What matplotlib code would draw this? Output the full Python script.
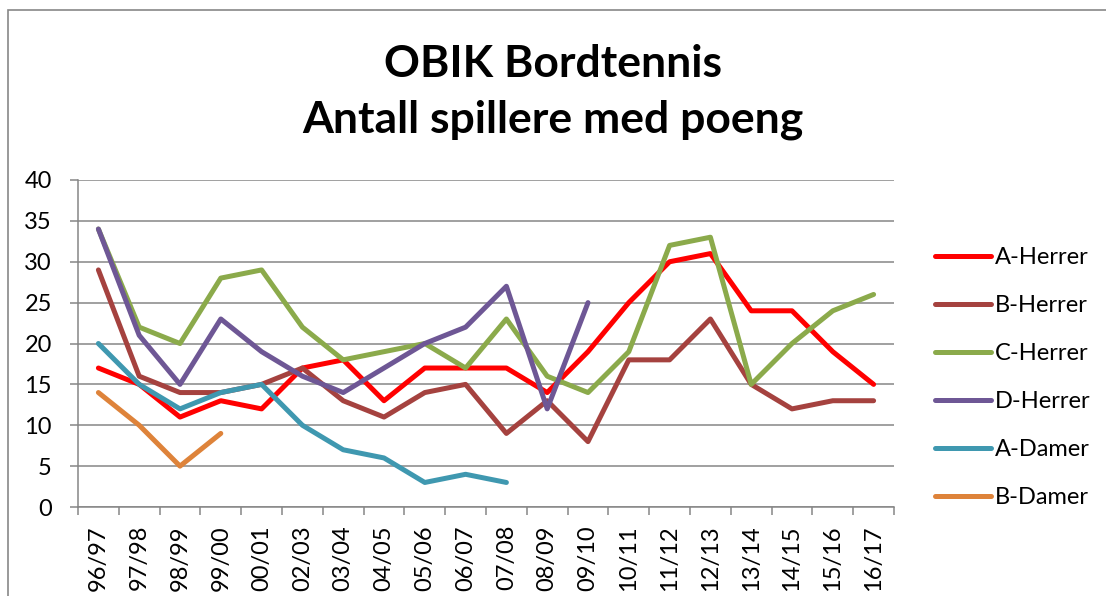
import matplotlib
matplotlib.use("Agg")
import matplotlib.pyplot as plt
from matplotlib.patches import Rectangle
import numpy as np

plt.rcParams['font.family'] = ['Lato', 'DejaVu Sans']

seasons = ["96/97", "97/98", "98/99", "99/00", "00/01", "02/03", "03/04", "04/05",
           "05/06", "06/07", "07/08", "08/09", "09/10", "10/11", "11/12", "12/13",
           "13/14", "14/15", "15/16", "16/17"]

a_herrer = [17, 15, 11, 13, 12, 17, 18, 13, 17, 17, 17, 14, 19, 25, 30, 31, 24, 24, 19, 15]
b_herrer = [29, 16, 14, 14, 15, 17, 13, 11, 14, 15, 9, 13, 8, 18, 18, 23, 15, 12, 13, 13]
c_herrer = [34, 22, 20, 28, 29, 22, 18, 19, 20, 17, 23, 16, 14, 19, 32, 33, 15, 20, 24, 26]
d_herrer = [34, 21, 15, 23, 19, 16, 14, 17, 20, 22, 27, 12, 25]
a_damer = [20, 15, 12, 14, 15, 10, 7, 6, 3, 4, 3]
b_damer = [14, 10, 5, 9]

series_names = ["A-Herrer", "B-Herrer", "C-Herrer", "D-Herrer", "A-Damer", "B-Damer"]
series_values = [a_herrer, b_herrer, c_herrer, d_herrer, a_damer, b_damer]
colors = ["#FF0000", "#A5423F", "#8BAA4B", "#6E5795", "#3F98B0", "#DE833A"]

W, H = 1106, 596
fig = plt.figure(figsize=(W / 100, H / 100), dpi=100)
fig.patch.set_facecolor("white")

# outer chart border (partially visible)
fig.patches.append(Rectangle((8 / W, -0.2), 1.5, 1 - 10 / H + 0.2,
                             transform=fig.transFigure, fill=False,
                             edgecolor="#878787", linewidth=1.2))

left, right, top, bottom = 78, 894, 180, 507
ax = fig.add_axes([left / W, 1 - bottom / H, (right - left) / W, (bottom - top) / H])

x_all = np.arange(len(seasons))
for name, vals, col in zip(series_names, series_values, colors):
    ax.plot(x_all[:len(vals)], vals, color=col, linewidth=3.6, label=name,
            solid_capstyle="round", solid_joinstyle="round")

ax.set_xlim(-0.5, len(seasons) - 0.5)
ax.set_ylim(0, 40)
ax.set_yticks(np.arange(0, 41, 5))
ax.set_xticks(x_all)
ax.set_xticklabels(seasons, rotation=90, fontsize=17, va="top", ha="center")
ax.set_xticks(np.arange(-0.5, len(seasons), 1.0), minor=True)

gray = "#868686"
ax.grid(axis="y", color=gray, linewidth=1.1)
ax.set_axisbelow(True)
for s in ["top", "right"]:
    ax.spines[s].set_visible(False)
for s in ["left", "bottom"]:
    ax.spines[s].set_color(gray)
    ax.spines[s].set_linewidth(1.1)

ax.tick_params(axis="y", which="major", length=5.8, width=1.1, color=gray,
               labelsize=17, pad=13)
ax.tick_params(axis="x", which="major", length=0, pad=13)
ax.tick_params(axis="x", which="minor", length=5.8, width=1.1, color=gray)

fig.text(0.5, 1 - 77 / H, "OBIK Bordtennis", ha="center", va="baseline",
         fontsize=32, fontweight="bold")
fig.text(0.5, 1 - 132 / H, "Antall spillere med poeng", ha="center", va="baseline",
         fontsize=32, fontweight="bold")

leg = ax.legend(loc="center left", bbox_to_anchor=(935 / W, 1 - 377.5 / H),
                bbox_transform=fig.transFigure, frameon=False, fontsize=17,
                handlelength=2.37, handletextpad=0.17, labelspacing=1.14,
                borderpad=0, borderaxespad=0)

fig.savefig("out.png", dpi=100)
